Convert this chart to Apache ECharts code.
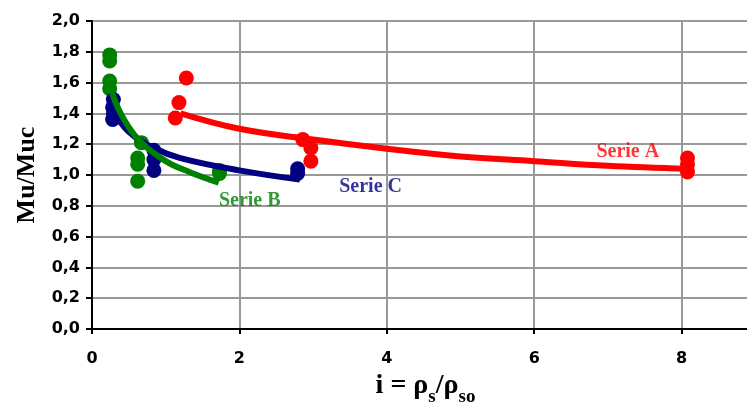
<!DOCTYPE html>
<html><head><meta charset="utf-8">
<script src="https://cdn.jsdelivr.net/npm/echarts@6/dist/echarts.min.js"></script>
<style>html,body{margin:0;padding:0;background:#fff}#c{width:747px;height:405px}</style>
</head><body><div id="c"></div>
<script>
// Measured points (x = rho_s/rho_so, y = Mu/Muc)
const serieA_x = [1.28, 1.18, 1.13, 2.86, 2.97, 2.97, 8.08, 8.08, 8.08];
const serieA_y = [1.63, 1.47, 1.37, 1.23, 1.175, 1.09, 1.11, 1.07, 1.02];
const serieB_x = [0.24, 0.24, 0.24, 0.24, 0.67, 0.62, 0.62, 0.62, 1.73, 1.73];
const serieB_y = [1.78, 1.74, 1.61, 1.56, 1.21, 1.11, 1.07, 0.96, 1.03, 1.01];
const serieC_x = [0.29, 0.28, 0.29, 0.28, 0.84, 0.84, 0.84, 2.79, 2.79];
const serieC_y = [1.49, 1.44, 1.40, 1.36, 1.16, 1.10, 1.03, 1.04, 1.01];
// Trend curves
const trendA_x = [1.2, 2, 3, 4, 5, 6, 7, 8.08];
const trendA_y = [1.40, 1.30, 1.23, 1.17, 1.12, 1.09, 1.06, 1.04];
const trendB_x = [0.26, 0.4, 0.65, 1.0, 1.32, 1.72];
const trendB_y = [1.55, 1.39, 1.22, 1.09, 1.02, 0.95];
const trendC_x = [0.28, 0.5, 0.84, 1.2, 2.0, 2.82];
const trendC_y = [1.42, 1.28, 1.175, 1.11, 1.03, 0.97];
const labels = [
  {text: 'Serie A', x: 7.27, y: 1.15, color: '#ff0000'},
  {text: 'Serie B', x: 2.14, y: 0.83, color: '#008000'},
  {text: 'Serie C', x: 3.78, y: 0.92, color: '#000080'}
];
const xTicks = [0, 2, 4, 6, 8];
const yTicks = [0, 0.2, 0.4, 0.6, 0.8, 1.0, 1.2, 1.4, 1.6, 1.8, 2.0];

const zip = (a, b) => a.map((v, i) => [v, b[i]]);
const chart = echarts.init(document.getElementById('c'), null, {renderer: 'canvas'});
const sc = (name, xs, ys, color) => ({
  type: 'scatter', name, data: zip(xs, ys), symbol: 'circle', symbolSize: 15,
  itemStyle: {color, opacity: 1}, z: 2, silent: true
});
const ln = (name, xs, ys, color) => ({
  type: 'line', name, data: zip(xs, ys), smooth: 0.4, showSymbol: false,
  lineStyle: {color, width: 6}, z: 3, silent: true
});
chart.setOption({
  animation: false,
  backgroundColor: '#fff',
  grid: {left: 92, top: 21, width: 737, height: 308, containLabel: false, outerBoundsMode: 'none'},
  xAxis: {
    type: 'value', min: 0, max: 10, interval: 2,
    axisLine: {lineStyle: {color: '#000', width: 2}},
    axisTick: {show: true, length: 5, lineStyle: {color: '#000', width: 2}},
    axisLabel: {color: '#000', fontFamily: 'DejaVu Sans', fontWeight: 'bold', fontSize: 16, margin: 22,
      formatter: v => xTicks.includes(v) ? String(v) : ''},
    splitLine: {lineStyle: {color: '#999', width: 2}},
    name: '{a|i = ρ}{s|s}{a|/ρ}{s|so}',
    nameLocation: 'middle', nameGap: 42,
    nameTextStyle: {
      padding: [0, 70, 0, 0],
      rich: {
        a: {fontFamily: 'Liberation Serif', fontWeight: 'bold', fontSize: 28, color: '#000', verticalAlign: 'bottom', lineHeight: 28},
        s: {fontFamily: 'Liberation Serif', fontWeight: 'bold', fontSize: 19, color: '#000', verticalAlign: 'bottom', lineHeight: 28, padding: [0, 0, -7, 0]}
      }
    }
  },
  yAxis: {
    type: 'value', min: 0, max: 2, interval: 0.2,
    axisLine: {show: true, lineStyle: {color: '#000', width: 2}},
    axisTick: {show: true, length: 6, lineStyle: {color: '#000', width: 2}},
    axisLabel: {color: '#000', fontFamily: 'DejaVu Sans', fontWeight: 'bold', fontSize: 16, margin: 12,
      formatter: v => v.toFixed(1).replace('.', ',')},
    splitLine: {lineStyle: {color: '#999', width: 2}},
    name: 'Mu/Muc', nameLocation: 'middle', nameGap: 52, nameRotate: 90,
    nameTextStyle: {fontFamily: 'Liberation Serif', fontWeight: 'bold', fontSize: 26, color: '#000'}
  },
  series: [
    sc('A', serieA_x, serieA_y, '#ff0000'),
    sc('B', serieB_x, serieB_y, '#008000'),
    sc('C', serieC_x, serieC_y, '#000080'),
    ln('tA', trendA_x, trendA_y, '#ff0000'),
    ln('tC', trendC_x, trendC_y, '#000080'),
    ln('tB', trendB_x, trendB_y, '#008000'),
    {
      type: 'scatter', data: labels.map(l => ({value: [l.x, l.y], label: {color: l.color, formatter: l.text}})),
      symbolSize: 0, silent: true, z: 5,
      label: {show: true, position: 'inside', fontFamily: 'Liberation Serif', fontWeight: 'bold', fontSize: 20}
    }
  ]
});
</script></body></html>
